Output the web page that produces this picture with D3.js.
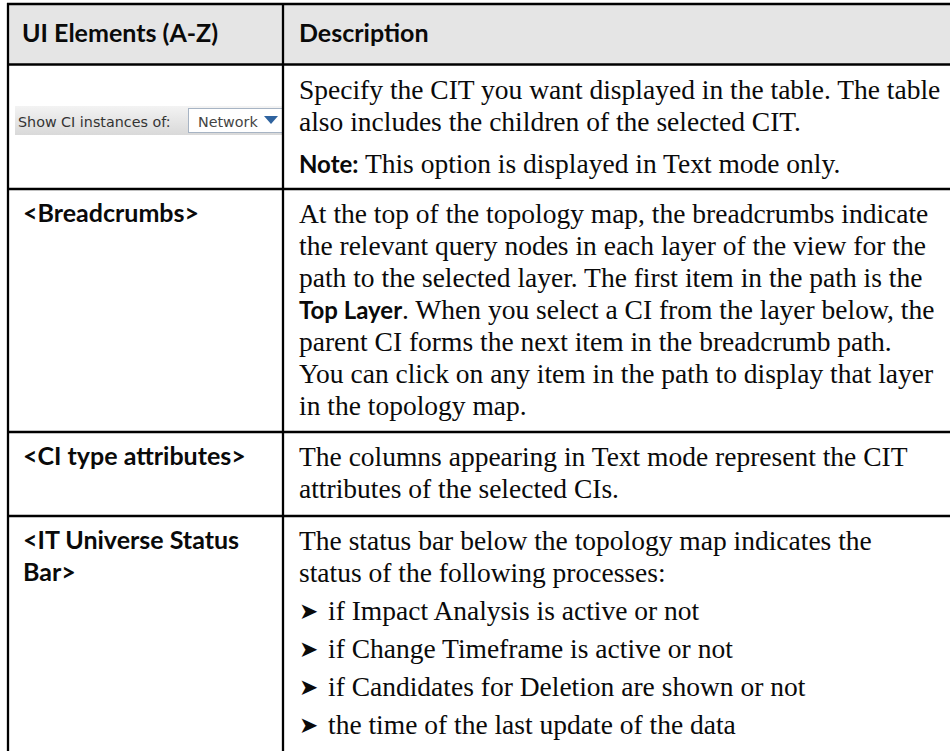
<!DOCTYPE html>
<html><head><meta charset="utf-8">
<script src="https://cdn.jsdelivr.net/npm/d3@7"></script>
<style>html,body{margin:0;padding:0;background:#fff;overflow:hidden}</style>
</head><body><div id="chart"></div>
<script>
// ---- table content ----
const headers = ["UI Elements (A-Z)", "Description"];
const rowLabels = [
  [],
  ["<Breadcrumbs>"],
  ["<CI type attributes>"],
  ["<IT Universe Status", "Bar>"]
];
// description paragraphs: each paragraph is a list of lines; each line is a list of [text, bold]
const descriptions = [
  [
    [[["Specify the CIT you want displayed in the table. The table", 0]], [["also includes the children of the selected CIT.", 0]]],
    [[["Note:", 1], [" This option is displayed in Text mode only.", 0]]]
  ],
  [
    [[["At the top of the topology map, the breadcrumbs indicate", 0]],
     [["the relevant query nodes in each layer of the view for the", 0]],
     [["path to the selected layer. The first item in the path is the", 0]],
     [["Top Layer", 1], [". When you select a CI from the layer below, the", 0]],
     [["parent CI forms the next item in the breadcrumb path.", 0]],
     [["You can click on any item in the path to display that layer", 0]],
     [["in the topology map.", 0]]]
  ],
  [
    [[["The columns appearing in Text mode represent the CIT", 0]], [["attributes of the selected CIs.", 0]]]
  ],
  [
    [[["The status bar below the topology map indicates the", 0]], [["status of the following processes:", 0]]]
  ]
];
const bulletRow = 3;
const bullets = [
  "if Impact Analysis is active or not",
  "if Change Timeframe is active or not",
  "if Candidates for Deletion are shown or not",
  "the time of the last update of the data"
];
const widgetLabel = "Show CI instances of:";
const widgetValue = "Network";

// ---- layout ----
const W = 950, H = 751;
const leftX = 8, colX = 283, topY = 4, headBottom = 64.5;
const rowEdges = [64.5, 189, 432, 516, 780];
const lineH = 32, paraGap = 10, bulletStep = 38;
const serif = "'Liberation Serif', 'Times New Roman', serif";
const sans = "Lato, 'Open Sans', sans-serif";
const bodySize = 27.5, boldInline = 24, labelSize = 25;

const svg = d3.select("#chart").append("svg").attr("width", W).attr("height", H);
svg.append("rect").attr("width", W).attr("height", H).attr("fill", "#fff");

svg.append("rect").attr("x", leftX).attr("y", topY).attr("width", W - leftX).attr("height", headBottom - topY).attr("fill", "#e5e5e5");

// header texts
const headX = [22, 299];
svg.selectAll("text.head").data(headers).join("text").attr("class", "head")
  .attr("x", (d, i) => headX[i]).attr("y", 42)
  .attr("font-family", sans).attr("font-weight", 700).attr("font-size", labelSize).attr("fill", "#0a0a0a")
  .text(d => d);

// row labels
rowLabels.forEach((lines, r) => {
  lines.forEach((ln, j) => {
    svg.append("text").attr("x", 23).attr("y", rowEdges[r] + 33 + j * lineH)
      .attr("font-family", sans).attr("font-weight", 700).attr("font-size", labelSize).attr("fill", "#0a0a0a")
      .text(ln);
  });
});

// descriptions
descriptions.forEach((paras, r) => {
  let y = rowEdges[r] + 34;
  paras.forEach((para, p) => {
    if (p > 0) y += paraGap;
    para.forEach(line => {
      const t = svg.append("text").attr("x", 299).attr("y", y)
        .attr("font-family", serif).attr("font-size", bodySize).attr("fill", "#0a0a0a");
      line.forEach(([s, b]) => {
        t.append("tspan").text(s)
          .attr("font-family", b ? sans : serif).attr("font-weight", b ? 700 : 400)
          .attr("font-size", b ? boldInline : bodySize);
      });
      y += lineH;
    });
  });
  if (r === bulletRow) {
    y += paraGap - 4;
    bullets.forEach(b => {
      svg.append("text").attr("x", 299).attr("y", y - 1)
        .attr("font-family", "'DejaVu Sans', sans-serif").attr("font-size", 23).attr("fill", "#0a0a0a").text("\u27A4");
      svg.append("text").attr("x", 328).attr("y", y)
        .attr("font-family", serif).attr("font-size", bodySize).attr("fill", "#0a0a0a").text(b);
      y += bulletStep;
    });
  }
});

// widget
const defs = svg.append("defs");
const g = defs.append("linearGradient").attr("id", "wg").attr("x1", 0).attr("x2", 0).attr("y1", 0).attr("y2", 1);
g.append("stop").attr("offset", 0).attr("stop-color", "#f3f3f3");
g.append("stop").attr("offset", 1).attr("stop-color", "#d9d9d9");
svg.append("rect").attr("x", 15).attr("y", 106).attr("width", colX - 15).attr("height", 29).attr("fill", "url(#wg)");
svg.append("text").attr("x", 18).attr("y", 127).attr("font-family", "'DejaVu Sans', Tahoma, sans-serif")
  .attr("font-size", 14.3).attr("fill", "#333").text(widgetLabel);
svg.append("rect").attr("x", 188.5).attr("y", 108.5).attr("width", colX - 188).attr("height", 24).attr("fill", "#fff").attr("stroke", "#a7b4c4");
svg.append("text").attr("x", 198).attr("y", 127).attr("font-family", "'DejaVu Sans', Tahoma, sans-serif")
  .attr("font-size", 14.3).attr("fill", "#444").text(widgetValue);
svg.append("path").attr("d", `M264,116 L278,116 L271,124 Z`).attr("fill", "#2f639f");

// grid lines
const lw = 2.3;
const hl = [topY, ...rowEdges.slice(0, 4)];
svg.selectAll("line.h").data(hl).join("line").attr("class", "h")
  .attr("x1", leftX - 1).attr("x2", W).attr("y1", d => d).attr("y2", d => d)
  .attr("stroke", "#000").attr("stroke-width", lw);
svg.selectAll("line.v").data([leftX, colX]).join("line").attr("class", "v")
  .attr("x1", d => d).attr("x2", d => d).attr("y1", topY - 1).attr("y2", H)
  .attr("stroke", "#000").attr("stroke-width", lw);
</script></body></html>
